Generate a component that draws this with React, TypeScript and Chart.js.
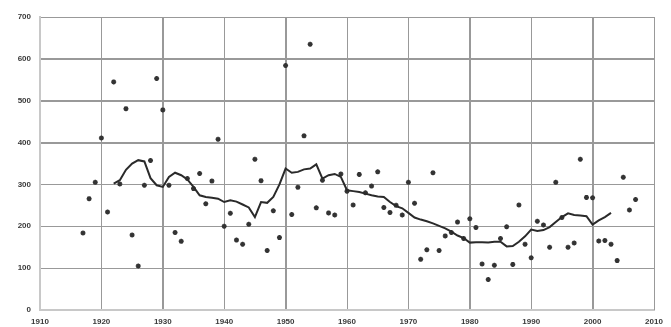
import React, { useEffect, useRef } from "react";
import { Chart, registerables } from "chart.js";

Chart.register(...registerables);

const pointYears: number[] = [
  1917, 1918, 1919, 1920, 1921, 1922, 1923, 1924, 1925, 1926, 1927, 1928, 1929, 1930,
  1931, 1932, 1933, 1934, 1935, 1936, 1937, 1938, 1939, 1940, 1941, 1942, 1943, 1944,
  1945, 1946, 1947, 1948, 1949, 1950, 1951, 1952, 1953, 1954, 1955, 1956, 1957, 1958,
  1959, 1960, 1961, 1962, 1963, 1964, 1965, 1966, 1967, 1968, 1969, 1970, 1971, 1972,
  1973, 1974, 1975, 1976, 1977, 1978, 1979, 1980, 1981, 1982, 1983, 1984, 1985, 1986,
  1987, 1988, 1989, 1990, 1991, 1992, 1993, 1994, 1995, 1996, 1997, 1998, 1999, 2000,
  2001, 2002, 2003, 2004, 2005, 2006, 2007,
];
const pointValues: number[] = [
  184, 266, 305, 411, 234, 545, 301, 481, 179, 105, 298, 357, 553, 478,
  298, 185, 164, 314, 290, 326, 254, 308, 408, 200, 231, 167, 157, 205,
  360, 309, 142, 237, 173, 584, 228, 293, 416, 635, 244, 310, 232, 227,
  325, 284, 251, 324, 280, 296, 330, 245, 233, 250, 227, 305, 255, 121,
  144, 328, 142, 177, 185, 210, 171, 218, 197, 110, 73, 107, 171, 199,
  109, 251, 157, 125, 212, 203, 150, 305, 221, 150, 160, 360, 269, 268,
  165, 166, 157, 118, 317, 239, 264,
];

const avgYears: number[] = [
  1922, 1923, 1924, 1925, 1926, 1927, 1928, 1929, 1930, 1931, 1932, 1933, 1934, 1935,
  1936, 1937, 1938, 1939, 1940, 1941, 1942, 1943, 1944, 1945, 1946, 1947, 1948, 1949,
  1950, 1951, 1952, 1953, 1954, 1955, 1956, 1957, 1958, 1959, 1960, 1961, 1962, 1963,
  1964, 1965, 1966, 1967, 1968, 1969, 1970, 1971, 1972, 1973, 1974, 1975, 1976, 1977,
  1978, 1979, 1980, 1981, 1982, 1983, 1984, 1985, 1986, 1987, 1988, 1989, 1990, 1991,
  1992, 1993, 1994, 1995, 1996, 1997, 1998, 1999, 2000, 2001, 2002, 2003,
];
const avgValues: number[] = [
  302, 310, 335, 350, 358, 355, 315, 298, 294, 318, 328, 322, 312, 294,
  274, 270, 268, 266, 258, 262, 259, 252, 245, 222, 258, 256, 270, 300,
  338, 328, 330, 336, 338, 348, 314, 322, 325, 318, 286, 284, 282, 278,
  274, 271, 270, 258, 248, 243, 232, 221, 216, 212, 207, 201, 195, 187,
  178, 172, 161, 162, 162, 161, 163, 163, 152, 153, 163, 176, 192, 189,
  191, 198, 210, 222, 231, 227, 226, 224, 204, 214, 222, 232,
];

const xMin = 1910;
const xMax = 2010;
const xStep = 10;
const yMin = 0;
const yMax = 700;
const yStep = 100;

const gridPlugin = {
  id: "manualGrid",
  beforeDatasetsDraw(chart: any) {
    const { ctx, chartArea: a, scales } = chart;
    const sx = scales.x;
    const sy = scales.y;
    ctx.save();
    ctx.strokeStyle = "#999999";
    ctx.lineWidth = 1;
    ctx.beginPath();
    for (let v = xMin; v <= xMax; v += xStep) {
      const px = Math.round(sx.getPixelForValue(v)) + 0.5;
      ctx.moveTo(px, a.top);
      ctx.lineTo(px, a.bottom);
    }
    for (let v = yMin; v <= yMax; v += yStep) {
      const py = Math.round(sy.getPixelForValue(v)) + 0.5;
      ctx.moveTo(a.left, py);
      ctx.lineTo(a.right, py);
    }
    ctx.stroke();
    ctx.strokeStyle = "#c8c8c8";
    ctx.lineWidth = 2;
    ctx.beginPath();
    const lx = Math.round(sx.getPixelForValue(xMin));
    const by = Math.round(sy.getPixelForValue(yMin));
    ctx.moveTo(lx, a.top);
    ctx.lineTo(lx, by + 1);
    ctx.moveTo(lx - 1, by);
    ctx.lineTo(a.right, by);
    ctx.stroke();
    ctx.restore();
  },
};

export default function App() {
  const ref = useRef<HTMLCanvasElement | null>(null);

  useEffect(() => {
    document.body.style.margin = "0";
    if (!ref.current) return;
    const sx: any = {
      type: "linear",
      min: xMin,
      max: xMax,
      ticks: {
        stepSize: xStep,
        callback: (v: any) => String(v),
        font: { family: "'Liberation Sans', Arial, sans-serif", size: 8, weight: "bold" },
        color: "#3a3a3a",
        padding: 7,
        maxRotation: 0,
      },
      grid: { display: true, color: "#999999", lineWidth: 1, drawTicks: false },
      border: { display: true, color: "#c8c8c8", width: 2 },
      afterFit: (s: any) => {
        s.height = 17;
      },
    };
    const sy: any = {
      type: "linear",
      min: yMin,
      max: yMax,
      ticks: {
        stepSize: yStep,
        font: { family: "'Liberation Sans', Arial, sans-serif", size: 8, weight: "bold" },
        color: "#3a3a3a",
        padding: 9,
      },
      grid: { display: true, color: "#999999", lineWidth: 1, drawTicks: false },
      border: { display: true, color: "#c8c8c8", width: 2 },
      afterFit: (s: any) => {
        s.width = 40;
      },
    };
    const chart = new Chart(ref.current, {
      type: "scatter",
      data: {
        datasets: [
          {
            type: "line",
            data: avgYears.map((x, i) => ({ x, y: avgValues[i] })),
            borderColor: "#2a2a2a",
            borderWidth: 2,
            pointRadius: 0,
          } as any,
          {
            data: pointYears.map((x, i) => ({ x, y: pointValues[i] })),
            pointStyle: "star",
            pointRadius: 2.5,
            borderColor: "#333333",
            backgroundColor: "#333333",
            borderWidth: 1.5,
          },
        ],
      },
      options: {
        animation: false,
        responsive: false,
        plugins: { legend: { display: false }, tooltip: { enabled: false } },
        layout: { padding: { top: 17, right: 17 } },
        scales: { x: sx, y: sy },
      },
      plugins: [gridPlugin],
    });
    return () => chart.destroy();
  }, []);

  return <canvas ref={ref} width={671} height={327} style={{ width: 671, height: 327, display: "block" }} />;
}
